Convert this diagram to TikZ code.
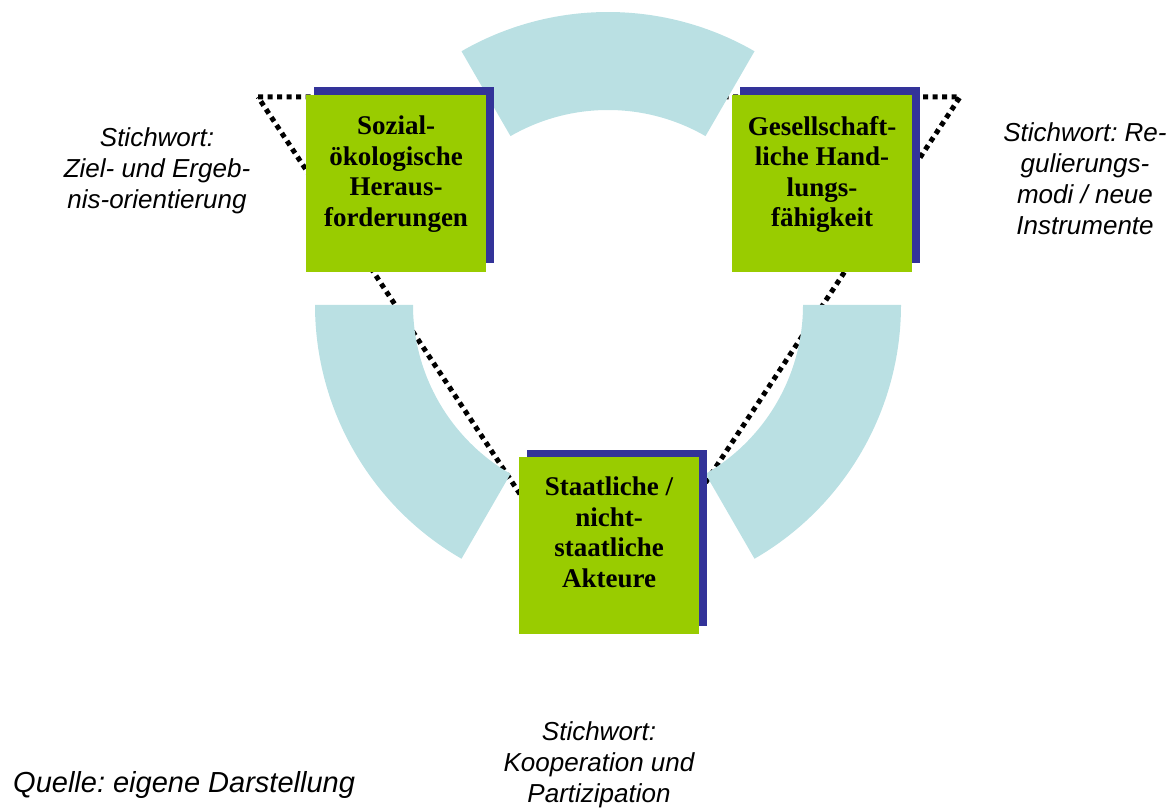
\documentclass[tikz,border=0pt]{standalone}
\usepackage{graphicx}
\usepackage{fontspec}
\setmainfont{Liberation Serif}
\setsansfont{Liberation Sans}
\frenchspacing
\definecolor{ringc}{HTML}{BAE0E3}
\definecolor{boxgreen}{HTML}{99CC00}
\definecolor{boxshadow}{HTML}{333399}
\begin{document}
\begin{tikzpicture}[x=1pt,y=1pt,
  ringseg/.style={fill=ringc,draw=none},
  boxbg/.style={fill=boxgreen,draw=none,minimum width=180pt,minimum height=177pt,inner sep=0pt},
  boxsh/.style={fill=boxshadow,draw=none,minimum width=180pt,minimum height=176pt,inner sep=0pt},
  boxtext/.style={font=\fontsize{27}{30.5}\selectfont\bfseries,align=center,anchor=north,inner sep=0pt},
  kw/.style={font=\sffamily\itshape\fontsize{26}{31}\selectfont,align=center,anchor=north,inner sep=0pt},
  dotline/.style={line width=5pt,dash pattern=on 5pt off 4.5pt}]
\useasboundingbox (0,0) rectangle (1174,807);
% dotted triangle
\coordinate (tl) at (258,710);
\coordinate (tr) at (960,710);
\coordinate (bm) at (609,178);
\draw[dotline] (tl) -- (tr) -- (bm) -- cycle;
% ring segments
\coordinate (rc) at (608,502);
\fill[ringseg] (rc) ++(60:293) arc[start angle=60,end angle=120,radius=293] -- ++(300:98) arc[start angle=120,end angle=60,radius=195] -- cycle;
\fill[ringseg] (rc) ++(180:293) arc[start angle=180,end angle=240,radius=293] -- ++(60:98) arc[start angle=240,end angle=180,radius=195] -- cycle;
\fill[ringseg] (rc) ++(300:293) arc[start angle=300,end angle=360,radius=293] -- ++(180:98) arc[start angle=360,end angle=300,radius=195] -- cycle;
% boxes
\node[boxsh] (s1) at (404,631.5) {};
\node[boxbg] (g1) at (396,623.5) {};
\node[boxtext] (t1) at ([yshift=-21pt]g1.north) {Sozial-\\ökologische\\Heraus-\\forderungen};
\node[boxsh] (s2) at (830,631.5) {};
\node[boxbg] (g2) at (822,623.5) {};
\node[boxtext] (t2) at ([yshift=-21pt]g2.north) {Gesellschaft-\\liche Hand-\\lungs-\\fähigkeit};
\node[boxsh] (s3) at (617,269) {};
\node[boxbg] (g3) at (609,261.5) {};
\node[boxtext] (t3) at ([yshift=-20pt]g3.north) {Staatliche /\\nicht-\\staatliche\\Akteure};
% keywords
\node[kw] (k1) at (157,680) {Stichwort:\\Ziel- und Ergeb-\\nis-orientierung};
\node[kw] (k2) at (1085,685) {Stichwort: Re-\\gulierungs-\\modi / neue\\Instrumente};
\node[kw,font=\sffamily\itshape\fontsize{26}{31}\selectfont] (k3) at (599,86) {Stichwort:\\Kooperation und\\Partizipation};
\node[anchor=base west,inner sep=0pt,font=\sffamily\itshape\fontsize{29}{32}\selectfont] (q) at (13,15) {Quelle: eigene Darstellung};
\end{tikzpicture}
\end{document}
